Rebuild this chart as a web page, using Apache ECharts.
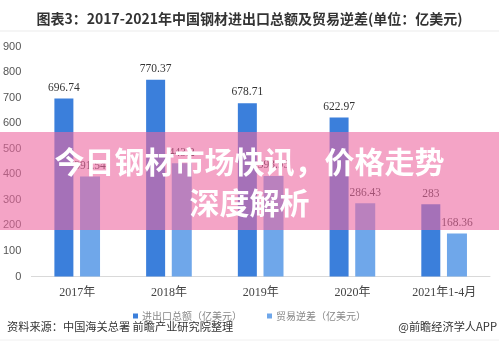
<!DOCTYPE html>
<html><head><meta charset="utf-8">
<script src="https://cdn.jsdelivr.net/npm/echarts@6/dist/echarts.min.js"></script>
<style>html,body{margin:0;padding:0;background:#fff;}#c{width:499px;height:363px;}</style>
</head><body><div id="c"></div>
<script>
const categories = ['2017年','2018年','2019年','2020年','2021年1-4月'];
const totalValues = [696.74, 770.37, 678.71, 622.97, 283];
const surplusValues = [391.54, 443.2, 393.95, 286.43, 168.36];
const yTicks = [0,100,200,300,400,500,600,700,800,900];
const seriesNames = ['进出口总额（亿美元）','贸易逆差（亿美元）'];

const chart = echarts.init(document.getElementById('c'), null, {renderer:'canvas'});
const cjk = '"Noto Sans CJK SC", "Noto Sans", sans-serif';
const serif = '"Liberation Serif", "Noto Sans CJK SC", serif';
chart.setOption({
  animation:false,
  backgroundColor:'#fff',
  title:{text:'图表3：2017-2021年中国钢材进出口总额及贸易逆差(单位：亿美元)',left:'center',top:7,
    textStyle:{fontFamily:cjk,fontSize:14,fontWeight:'bold',color:'#333'}},
  legend:{bottom:37,left:'center',itemWidth:5,itemHeight:5,itemGap:25,icon:'rect',
    textStyle:{fontFamily:cjk,fontSize:10,color:'#888',padding:[0,0,0,-1]},data:seriesNames},
  grid:{left:30,right:9,top:46.7,bottom:86.5},
  xAxis:{type:'category',data:categories,
    axisLine:{lineStyle:{color:'#d9d9d9'}},axisTick:{show:false},
    axisLabel:{fontFamily:serif,fontSize:12,color:'#444',margin:10}},
  yAxis:{type:'value',min:yTicks[0],max:yTicks[yTicks.length-1],interval:100,
    splitLine:{show:false},axisLine:{show:false},axisTick:{show:false},
    axisLabel:{fontFamily:'"Liberation Sans", sans-serif',fontSize:11,color:'#555',margin:10}},
  series:[
    {name:seriesNames[0],type:'bar',data:totalValues,barWidth:19,barGap:'35%',
     itemStyle:{color:'#3b7fdb'},
     label:{show:true,position:'top',distance:5,fontFamily:serif,fontSize:11.5,color:'#333'}},
    {name:seriesNames[1],type:'bar',data:surplusValues,barWidth:20,
     itemStyle:{color:'#6fa7ea'},
     label:{show:true,position:'top',distance:5,fontFamily:serif,fontSize:11.5,color:'#333'}}
  ],
  graphic:[
    {type:'line',shape:{x1:0,y1:31,x2:499,y2:31},style:{stroke:'#ebebeb',lineWidth:1},z:1},
    {type:'rect',shape:{x:0,y:132,width:499,height:98},style:{fill:'rgba(237,104,160,0.6)'},z:100},
    {type:'text',x:249.5,y:162,z:101,style:{text:'今日钢材市场快讯，价格走势',fill:'#fff',
      font:'bold 30px "Noto Sans CJK SC", sans-serif',textAlign:'center',textVerticalAlign:'middle',
      shadowColor:'rgba(0,0,0,0.25)',shadowBlur:3,shadowOffsetX:1,shadowOffsetY:1}},
    {type:'text',x:249.5,y:203,z:101,style:{text:'深度解析',fill:'#fff',
      font:'bold 30px "Noto Sans CJK SC", sans-serif',textAlign:'center',textVerticalAlign:'middle',
      shadowColor:'rgba(0,0,0,0.25)',shadowBlur:3,shadowOffsetX:1,shadowOffsetY:1}},
    {type:'text',left:7,top:321,style:{text:'资料来源：中国海关总署 前瞻产业研究院整理',fill:'#333',
      font:'11.2px "Noto Sans CJK SC", sans-serif'}},
    {type:'text',right:2,top:321,style:{text:'@前瞻经济学人APP',fill:'#333',
      font:'11.2px "Noto Sans CJK SC", sans-serif'}},
    {type:'line',shape:{x1:0,y1:340,x2:499,y2:340},style:{stroke:'#f0f0f0',lineWidth:1}}
  ]
});
</script></body></html>
